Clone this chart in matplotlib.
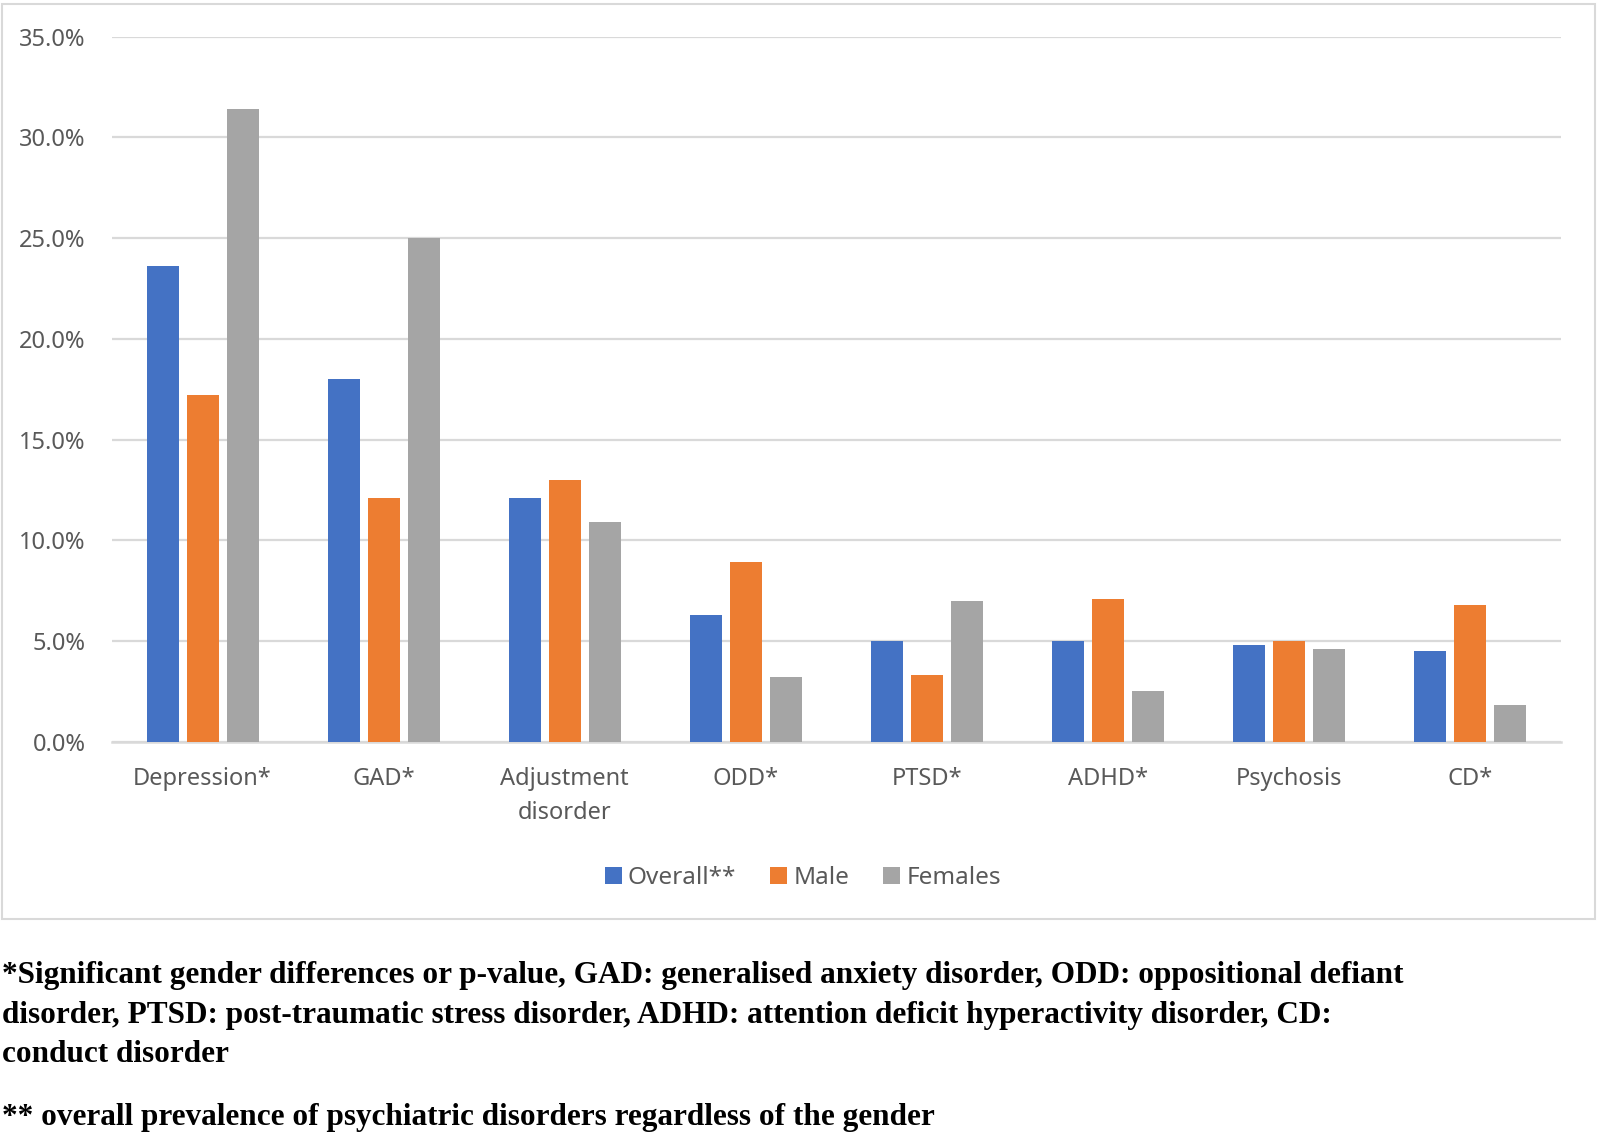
import matplotlib.pyplot as plt
import numpy as np
from matplotlib.patches import Rectangle
from matplotlib.ticker import PercentFormatter

categories = ["Depression*", "GAD*", "Adjustment\ndisorder", "ODD*", "PTSD*",
              "ADHD*", "Psychosis", "CD*"]
overall = [23.6, 18.0, 12.1, 6.3, 5.0, 5.0, 4.8, 4.5]
male = [17.2, 12.1, 13.0, 8.9, 3.3, 7.1, 5.0, 6.8]
females = [31.4, 25.0, 10.9, 3.2, 7.0, 2.5, 4.6, 1.8]
series_names = ["Overall**", "Male", "Females"]
colors = ["#4472C4", "#ED7D31", "#A5A5A5"]

footnotes = [
    "*Significant gender differences or p-value, GAD: generalised anxiety disorder, ODD: oppositional defiant",
    "disorder, PTSD: post-traumatic stress disorder, ADHD: attention deficit hyperactivity disorder, CD:",
    "conduct disorder",
    "** overall prevalence of psychiatric disorders regardless of the gender",
]

W, H = 1598, 1137
fig = plt.figure(figsize=(W / 100, H / 100), dpi=100)

# chart frame (Excel chart area border)
fig.patches.append(Rectangle((2 / W, 1 - 919 / H), (1595 - 2) / W, (919 - 4) / H,
                             transform=fig.transFigure, fill=False,
                             edgecolor="#D9D9D9", linewidth=1.5))

ax = fig.add_axes([112 / W, 1 - 741.7 / H, (1561 - 112) / W, (741.7 - 36.7) / H])

x = np.arange(len(categories))
bw = 0.177
step = 0.221
for i, (vals, name, c) in enumerate(zip([overall, male, females], series_names, colors)):
    ax.bar(x + (i - 1) * step, vals, width=bw, color=c, label=name, zorder=3)

ax.set_xlim(-0.5, len(categories) - 0.5)
ax.set_ylim(0, 35)
ax.set_yticks(np.arange(0, 36, 5))
ax.yaxis.set_major_formatter(PercentFormatter(decimals=1))
ax.grid(axis="y", color="#D9D9D9", linewidth=1.6, zorder=0)
for s in ["top", "right", "left"]:
    ax.spines[s].set_visible(False)
ax.spines["bottom"].set_color("#D9D9D9")
ax.spines["bottom"].set_linewidth(1.8)

ax.set_xticks(x)
ax.set_xticklabels(categories, linespacing=1.55)
ax.tick_params(axis="both", length=0, labelsize=17, labelcolor="#595959",
               labelfontfamily="Noto Sans")
ax.tick_params(axis="y", pad=19)
ax.tick_params(axis="x", pad=18)

leg = ax.legend(loc="center", bbox_to_anchor=(803 / W, 1 - 878 / H),
                bbox_transform=fig.transFigure, ncol=3, frameon=False,
                handlelength=0.7, handleheight=0.7, handletextpad=0.25,
                columnspacing=1.4, prop={"family": "Noto Sans", "size": 17.5})
for t in leg.get_texts():
    t.set_color("#595959")

ys = [976, 1016, 1055, 1118]
for line, yy in zip(footnotes, ys):
    fig.text(2 / W, 1 - yy / H, line, ha="left", va="center",
             fontfamily="Liberation Serif", fontweight="bold", fontsize=22.5,
             color="black")

fig.savefig("out.png", dpi=100)
